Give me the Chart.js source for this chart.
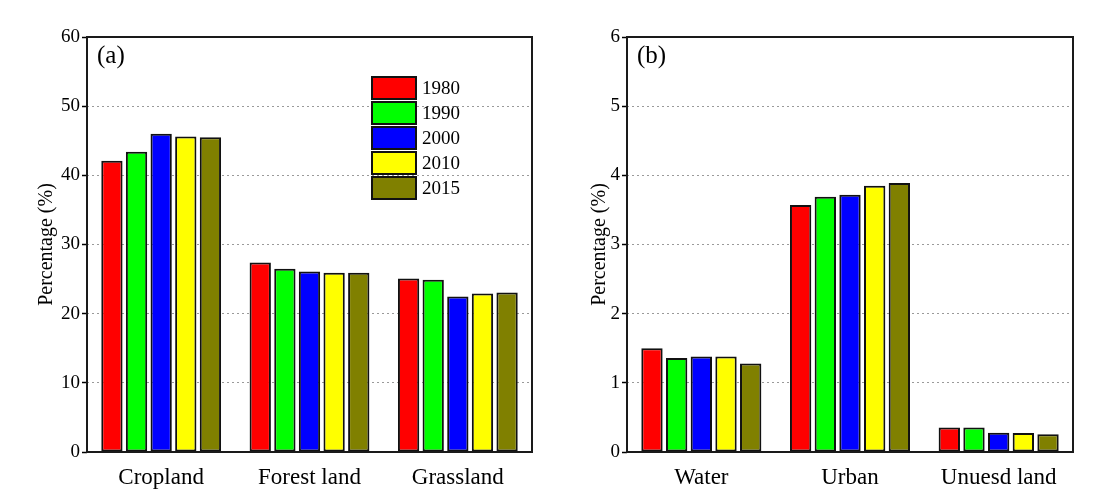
<!DOCTYPE html>
<html>
<head>
<meta charset="utf-8">
<script src="https://cdn.jsdelivr.net/npm/chart.js@4"></script>
<style>
    html, body { margin: 0; padding: 0; background: #fff; }
    #wrap { position: relative; width: 1103px; height: 492px; }
    #chartA { position: absolute; left: 0; top: 0; }
    #chartB { position: absolute; left: 560px; top: 0; }
</style>
</head>
<body>
<div id="wrap">
    <canvas id="chartA" width="560" height="492"></canvas>
    <canvas id="chartB" width="543" height="492"></canvas>
</div>
<script>
// data
const years = ['1980', '1990', '2000', '2010', '2015'];
const yearColors = ['#ff0000', '#00ff00', '#0000ff', '#ffff00', '#808000'];

const categoriesA = ['Cropland', 'Forest land', 'Grassland'];
const valuesA1980 = [42.1, 27.4, 25.1];
const valuesA1990 = [43.4, 26.5, 24.9];
const valuesA2000 = [46.0, 26.1, 22.5];
const valuesA2010 = [45.6, 25.9, 22.9];
const valuesA2015 = [45.5, 25.9, 23.05];
const ticksA = [0, 10, 20, 30, 40, 50, 60];

const categoriesB = ['Water', 'Urban', 'Unuesd land'];
const valuesB1980 = [1.50, 3.57, 0.355];
const valuesB1990 = [1.36, 3.69, 0.355];
const valuesB2000 = [1.38, 3.72, 0.28];
const valuesB2010 = [1.38, 3.85, 0.275];
const valuesB2015 = [1.28, 3.89, 0.255];
const ticksB = [0, 1, 2, 3, 4, 5, 6];

const FONT = "'Liberation Serif', 'Times New Roman', serif";

// frame round the plot, panel letter, and the legend inside panel (a)
const framePlugin = {
    id: 'frame',
    afterDraw(chart, args, opts) {
        const a = chart.chartArea;
        const c = chart.ctx;
        c.save();
        c.strokeStyle = '#1a1a1a';
        c.lineWidth = 2;
        c.strokeRect(a.left, a.top, a.right - a.left, a.bottom - a.top);

        c.fillStyle = '#000';
        c.font = '25px ' + FONT;
        c.textBaseline = 'middle';
        c.textAlign = 'left';
        c.fillText(opts.letter, a.left + 10, a.top + 19);

        if (opts.legend) {
            let y = a.top + 40;
            c.font = '19px ' + FONT;
            chart.data.datasets.forEach(ds => {
                c.fillStyle = ds.backgroundColor;
                c.fillRect(a.left + 285, y, 44, 22);
                c.strokeStyle = '#111';
                c.lineWidth = 2;
                c.strokeRect(a.left + 285, y, 44, 22);
                c.fillStyle = '#000';
                c.fillText(ds.label, a.left + 335, y + 12);
                y += 25;
            });
        }
        c.restore();
    }
};

function makeDatasets(seriesList) {
    return seriesList.map((vals, i) => ({
        label: years[i],
        data: vals,
        backgroundColor: yearColors[i],
        borderColor: '#111',
        borderWidth: 2,
        borderSkipped: false,
        categoryPercentage: 0.83,
        barPercentage: 0.865
    }));
}

function makeChart(canvasId, labels, seriesList, tickVals, opts) {
    return new Chart(document.getElementById(canvasId), {
        type: 'bar',
        data: { labels: labels, datasets: makeDatasets(seriesList) },
        plugins: [framePlugin],
        options: {
            responsive: false,
            animation: false,
            layout: { padding: { top: 37, right: opts.padRight, left: 0, bottom: 0 } },
            plugins: {
                legend: { display: false },
                tooltip: { enabled: false },
                frame: { letter: opts.letter, legend: opts.legend }
            },
            scales: {
                x: {
                    grid: { display: false },
                    border: { display: false },
                    ticks: { color: '#000', padding: 4, font: { family: FONT, size: 23 } },
                    afterFit: s => { s.height = 40; }
                },
                y: {
                    min: tickVals[0],
                    max: tickVals[tickVals.length - 1],
                    afterBuildTicks: s => { s.ticks = tickVals.map(v => ({ value: v })); },
                    grid: {
                        color: '#9a9a9a',
                        lineWidth: 1,
                        tickColor: '#000',
                        tickLength: 5,
                        tickWidth: 1.5,
                        tickBorderDash: []
                    },
                    border: { display: false, dash: [2, 3] },
                    ticks: { color: '#000', padding: 2, font: { family: FONT, size: 19 } },
                    title: {
                        display: true,
                        text: 'Percentage (%)',
                        color: '#000',
                        font: { family: FONT, size: 20 },
                        padding: { top: opts.titlePad, bottom: 0 }
                    },
                    afterFit: s => { s.width = opts.axisWidth; }
                }
            }
        }
    });
}

document.addEventListener('DOMContentLoaded', function() {
    makeChart('chartA', categoriesA,
        [valuesA1980, valuesA1990, valuesA2000, valuesA2010, valuesA2015], ticksA,
        { axisWidth: 87, padRight: 28, titlePad: 35, letter: '(a)', legend: true });

    makeChart('chartB', categoriesB,
        [valuesB1980, valuesB1990, valuesB2000, valuesB2010, valuesB2015], ticksB,
        { axisWidth: 67, padRight: 30, titlePad: 28, letter: '(b)', legend: false });
});
</script>
</body>
</html>
